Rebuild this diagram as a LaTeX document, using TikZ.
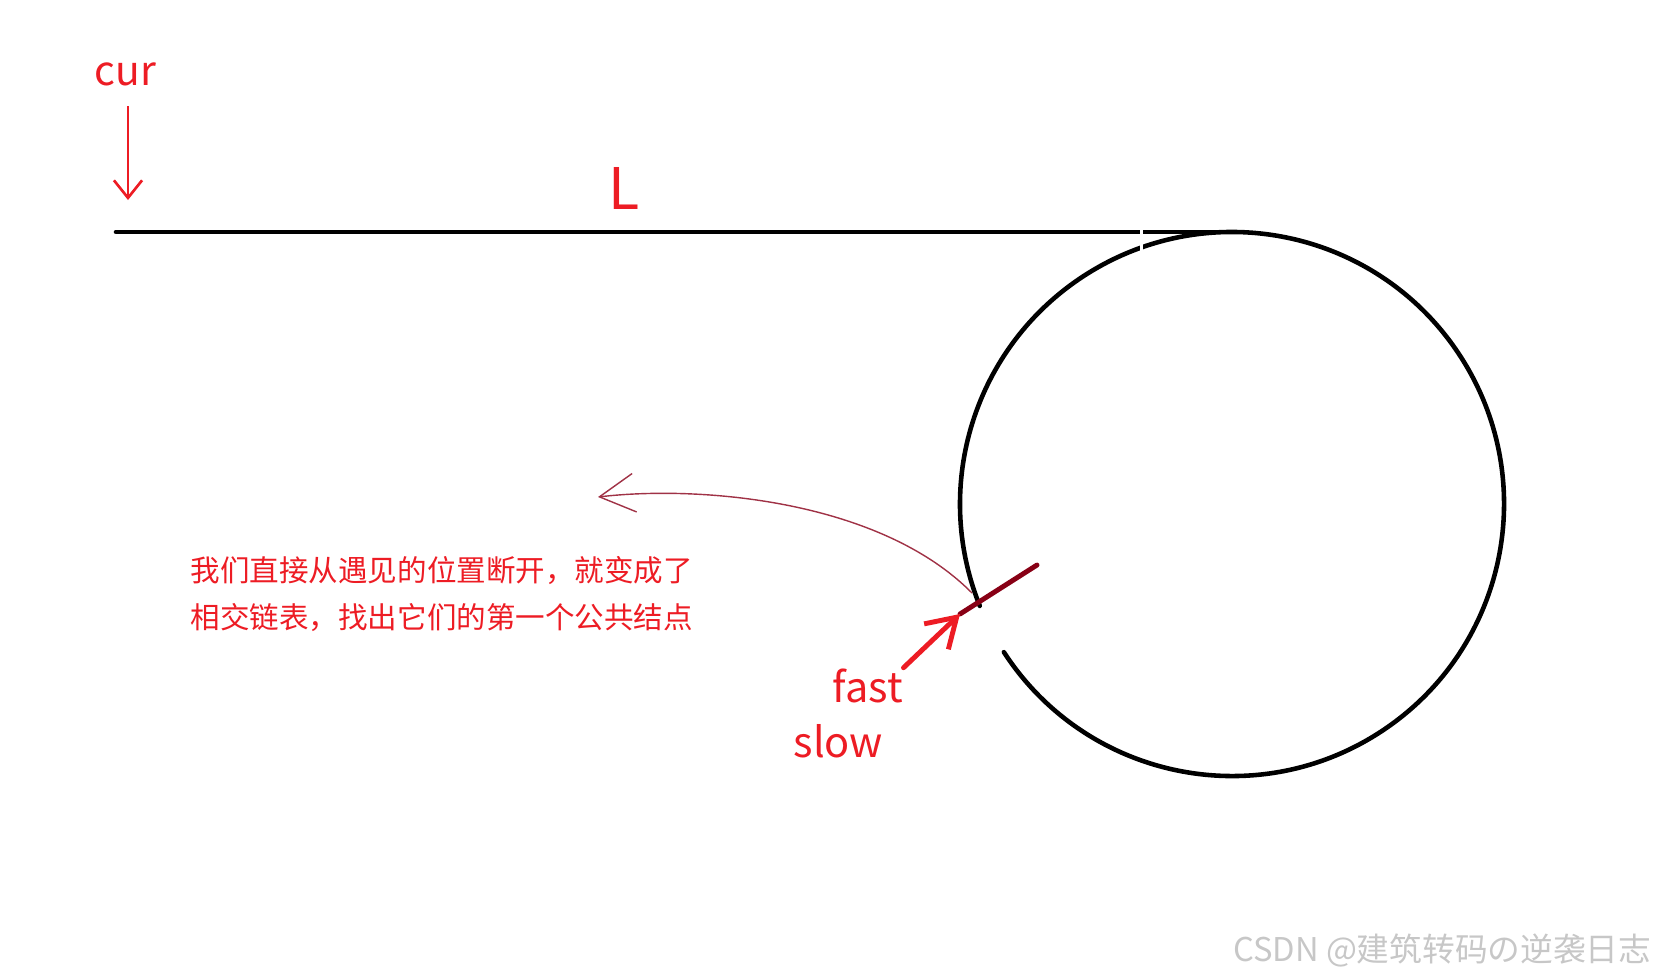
\documentclass[tikz,border=0pt]{standalone}
\usepackage{fontspec}
\setmainfont{Noto Sans CJK SC}
\usetikzlibrary{calc,arrows.meta}
\definecolor{paintred}{RGB}{237,28,36}
\definecolor{paintdark}{RGB}{136,0,21}
\definecolor{pencil}{RGB}{160,50,70}
\def\ringarc[#1](#2)(#3:#4:#5){\draw[#1] ($(#2)+({#5*cos(#3)},{#5*sin(#3)})$) arc (#3:#4:#5);}

\begin{document}
\begin{tikzpicture}[x=0.01cm, y=0.01cm,
		redtext/.style={text=paintred, inner sep=0pt, anchor=base west},
		track/.style={line width=1.3pt, line cap=round},
		pointer/.style={draw=paintred, line width=0.75pt, -{Straight Barb[length=5pt,width=8pt]}}]
			%%%%% START %%%%%
			
			\useasboundingbox (0,0) rectangle (1655,-978);
			
			\coordinate (head) at (116,-232);
			\coordinate (entry) at (1240,-232);
			\draw[track] (head) -- (entry);
			
			\coordinate (ring) at (1232,-504);
			\ringarc[track](ring)(213:562:272);
			
			\draw[white, line width=0.9pt] (1141.5,-226) -- (1141.5,-252);
			
			\node[redtext, font=\fontsize{11.6pt}{11.6pt}\selectfont] (cur) at (94,-85) {cur};
			\coordinate (curtip) at (128,-200);
			\coordinate (curtail) at ($(curtip |- cur.south)+(0,-20)$);
			\draw[pointer] (curtail) -- (curtip);
			
			\node[redtext, font=\fontsize{16.3pt}{16.3pt}\selectfont] (L) at (608,-209) {L};
			
			\node[redtext, font=\fontsize{11.8pt}{11.8pt}\selectfont] (fast) at (832,-702) {fast};
			\node[redtext, font=\fontsize{11.8pt}{11.8pt}\selectfont] (slow) at (793,-757) {slow};
			
			\coordinate (meet) at (960,-614);
			\coordinate (cut) at (1037,-565);
			\draw[paintdark, line width=1.4pt, line cap=round] (meet) -- (cut);
			\draw[paintred, line width=1.4pt, line cap=round, -{Straight Barb[length=8pt,width=10pt]}] (fast.north east) -- (meet);
			
			\node[text=paintred, inner sep=0pt, anchor=west, align=left, font=\fontsize{8.4pt}{13.4pt}\selectfont] (note) at (190,-594) {我们直接从遇见的位置断开，就变成了\\相交链表，找出它们的第一个公共结点};
			
			\coordinate (split) at (972,-593);
			\coordinate (back) at (598,-497);
			\draw[pencil, line width=0.4pt, -{Straight Barb[length=10pt,width=11pt]}] (split) .. controls (880,-500) and (700,-485) .. (back);
			
			\node[text=black!22, inner sep=0pt, anchor=east, font=\fontsize{9.3pt}{9.3pt}\selectfont] (mark) at (1652,-950) {CSDN @建筑转码の逆袭日志};
			
			%%%%% END %%%%%
		\end{tikzpicture}
\end{document}
